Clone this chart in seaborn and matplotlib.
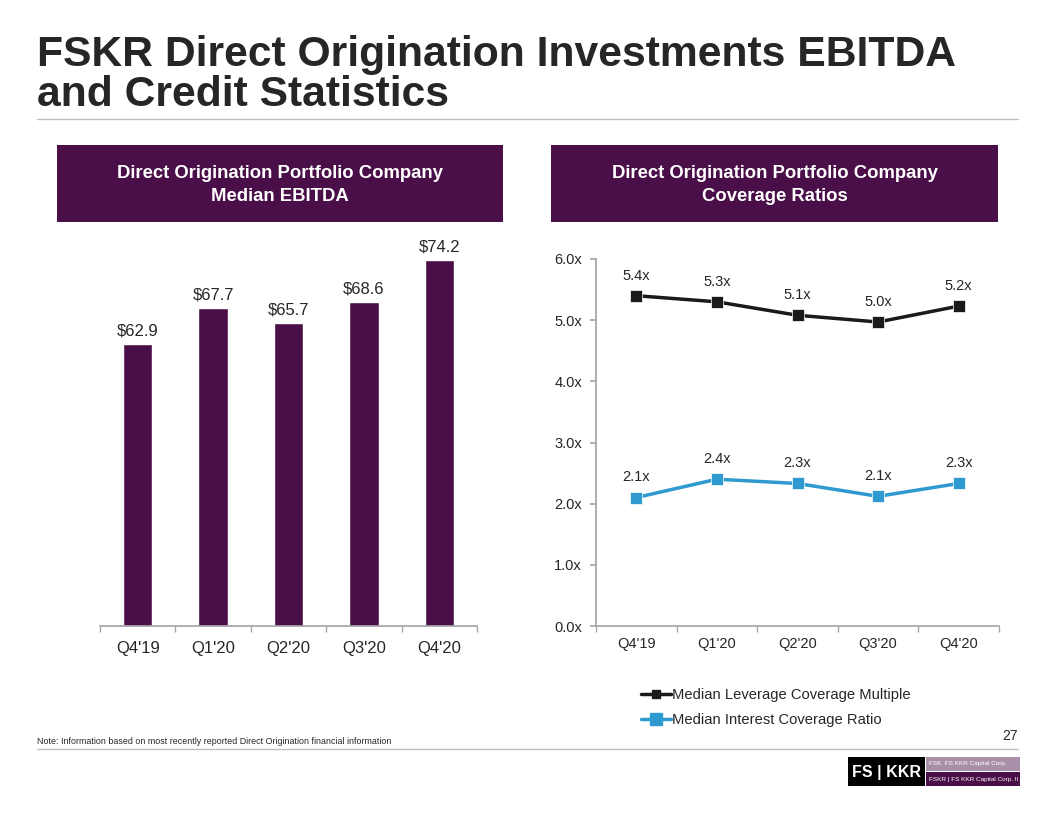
import numpy as np
import pandas as pd
import matplotlib
matplotlib.use("Agg")
import matplotlib.pyplot as plt
from matplotlib.patches import Rectangle
from matplotlib.lines import Line2D
import seaborn as sns

# ---- data ----
quarters = ["Q4'19", "Q1'20", "Q2'20", "Q3'20", "Q4'20"]
ebitda = [62.9, 67.7, 65.7, 68.6, 74.2]
leverage = [5.4, 5.3, 5.08, 4.97, 5.23]
leverage_labels = ["5.4x", "5.3x", "5.1x", "5.0x", "5.2x"]
interest = [2.1, 2.4, 2.33, 2.12, 2.33]
interest_labels = ["2.1x", "2.4x", "2.3x", "2.1x", "2.3x"]
y_ticks = [0, 1, 2, 3, 4, 5, 6]

PURPLE = "#4A0F48"
BLUE = "#2E9AD0"
BLACK = "#1A1A1A"
AXIS_GREY = "#A6A6A6"
TEXT = "#262626"

sns.set_theme(style="white")
plt.rcParams["font.family"] = ["Liberation Sans", "DejaVu Sans"]

W, H = 1056, 816
fig = plt.figure(figsize=(W / 100, H / 100), dpi=100)


def fx(px):
    return px / W


def fy(py):
    return 1 - py / H


# ---- title + rules ----
fig.text(fx(37), fy(66), "FSKR Direct Origination Investments EBITDA",
         fontsize=30.7, fontweight="bold", color=TEXT, va="baseline")
fig.text(fx(37), fy(106), "and Credit Statistics",
         fontsize=30.7, fontweight="bold", color=TEXT, va="baseline")
fig.add_artist(Line2D([fx(37), fx(1018)], [fy(119), fy(119)],
                      color="#BFBFBF", lw=1))
fig.add_artist(Line2D([fx(37), fx(1018)], [fy(749), fy(749)],
                      color="#BFBFBF", lw=1))

# ---- header boxes ----
headers = [
    (57, 503, "Direct Origination Portfolio Company\nMedian EBITDA"),
    (551, 998, "Direct Origination Portfolio Company\nCoverage Ratios"),
]
for x0, x1, txt in headers:
    fig.add_artist(Rectangle((fx(x0), fy(222)), fx(x1 - x0), (222 - 145) / H,
                             transform=fig.transFigure, color=PURPLE, lw=0))
    fig.text(fx((x0 + x1) / 2), fy(185), txt, color="white", fontsize=13.3,
             fontweight="bold", ha="center", va="center", linespacing=1.5)

# ---- bar chart ----
ax1 = fig.add_axes([fx(100), fy(626), fx(377), (626 - 217) / H])
bar_df = pd.DataFrame({"quarter": quarters, "ebitda": ebitda})
sns.barplot(data=bar_df, x="quarter", y="ebitda", color=PURPLE,
            width=0.39, saturation=1, ax=ax1)
ax1.set_ylim(25, 80)
ax1.set_xlim(-0.5, 4.5)
for i, v in enumerate(ebitda):
    ax1.annotate(f"${v:.1f}", (i, v), xytext=(0, 4), textcoords="offset points",
                 ha="center", va="bottom", fontsize=12, color=TEXT)
ax1.set_yticks([])
ax1.set_xlabel("")
ax1.set_ylabel("")
for s in ["top", "right", "left"]:
    ax1.spines[s].set_visible(False)
ax1.spines["bottom"].set_color(AXIS_GREY)
ax1.set_xticks(np.arange(-0.5, 5, 1), minor=True)
ax1.tick_params(axis="x", which="major", length=0, labelsize=12,
                labelcolor=TEXT, pad=11)
ax1.tick_params(axis="x", which="minor", length=4, color=AXIS_GREY,
                direction="out", bottom=True)

# ---- line chart ----
ax2 = fig.add_axes([fx(596), fy(626), fx(403), (626 - 259) / H])
line_df = pd.DataFrame({
    "quarter": quarters * 2,
    "value": leverage + interest,
    "series": ["Median Leverage Coverage Multiple"] * 5
              + ["Median Interest Coverage Ratio"] * 5,
})
sns.lineplot(data=line_df, x="quarter", y="value", hue="series",
             palette=[BLACK, BLUE], marker="s", markersize=8, lw=2.5,
             markeredgecolor="white", markeredgewidth=0.5,
             sort=False, legend=False, ax=ax2)
ax2.set_ylim(0, 6)
ax2.set_xlim(-0.5, 4.5)
ax2.set_yticks(y_ticks)
ax2.set_yticklabels([f"{t:.1f}x" for t in y_ticks])
for vals, labs in [(leverage, leverage_labels), (interest, interest_labels)]:
    for i, (v, lab) in enumerate(zip(vals, labs)):
        ax2.annotate(lab, (i, v), xytext=(0, 14.5), textcoords="offset points",
                     ha="center", va="center", fontsize=10.5, color=TEXT)
ax2.set_xlabel("")
ax2.set_ylabel("")
for s in ["top", "right"]:
    ax2.spines[s].set_visible(False)
ax2.spines["bottom"].set_color(AXIS_GREY)
ax2.spines["left"].set_color(AXIS_GREY)
ax2.set_xticks(np.arange(-0.5, 5, 1), minor=True)
ax2.tick_params(axis="x", which="major", length=0, labelsize=10.5,
                labelcolor=TEXT, pad=8)
ax2.tick_params(axis="x", which="minor", length=4, color=AXIS_GREY,
                direction="out", bottom=True)
ax2.tick_params(axis="y", length=4, color=AXIS_GREY, direction="out", left=True,
                labelsize=10.5, labelcolor=TEXT, pad=6)

handles = [
    Line2D([], [], color=BLACK, lw=2.5, marker="s", markersize=6),
    Line2D([], [], color=BLUE, lw=2.5, marker="s", markersize=8),
]
fig.legend(handles, ["Median Leverage Coverage Multiple",
                     "Median Interest Coverage Ratio"],
           loc="upper left", bbox_to_anchor=(fx(628), fy(675)), frameon=False,
           fontsize=10.6, handlelength=2.0, handletextpad=0.1, labelspacing=0.75,
           labelcolor=TEXT)

# ---- footer ----
fig.text(fx(37), fy(741), "Note: Information based on most recently reported "
         "Direct Origination financial information", fontsize=6.4,
         color=TEXT, va="center")
fig.text(fx(1018), fy(736), "27", fontsize=10, color=TEXT, ha="right",
         va="center")

# logo
fig.add_artist(Rectangle((fx(848), fy(786)), fx(77), 29 / H,
                         transform=fig.transFigure, color="black", lw=0))
fig.text(fx(886), fy(772), "FS | KKR", color="white", fontsize=11.5,
         fontweight="bold", ha="center", va="center")
fig.add_artist(Rectangle((fx(926), fy(771)), fx(94), 14 / H,
                         transform=fig.transFigure, color="#A990A8", lw=0))
fig.text(fx(929), fy(764), "FSK  FS KKR Capital Corp.", color="white",
         fontsize=4.6, va="center")
fig.add_artist(Rectangle((fx(926), fy(786)), fx(94), 14 / H,
                         transform=fig.transFigure, color=PURPLE, lw=0))
fig.text(fx(929), fy(779), "FSKR | FS KKR Capital Corp. II", color="white",
         fontsize=4.6, va="center")

fig.savefig("out.png", dpi=100)
